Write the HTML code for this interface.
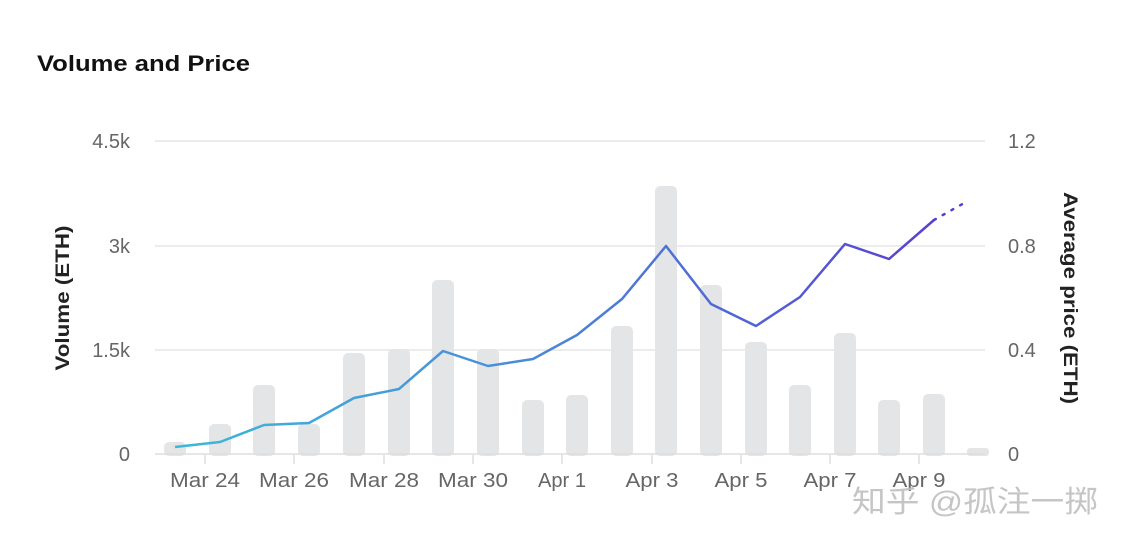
<!DOCTYPE html>
<html><head><meta charset="utf-8"><style>
html,body{margin:0;padding:0;background:#fff;}
body{width:1126px;height:546px;overflow:hidden;font-family:"Liberation Sans","Noto Sans CJK SC",sans-serif;}
</style></head><body>
<svg width="1126" height="546" xmlns="http://www.w3.org/2000/svg" font-family="Liberation Sans, Noto Sans CJK SC, sans-serif">
<defs><linearGradient id="g" x1="175" y1="0" x2="965" y2="0" gradientUnits="userSpaceOnUse">
<stop offset="0" stop-color="#3cb8d8"/><stop offset="0.45" stop-color="#4a8ad8"/><stop offset="1" stop-color="#5a3bcf"/></linearGradient></defs>
<text x="37" y="71" font-size="22" font-weight="bold" fill="#111" textLength="213" lengthAdjust="spacingAndGlyphs">Volume and Price</text>
<g stroke="#e6e6e6" stroke-width="1.5">
<line x1="155" y1="141" x2="985" y2="141"/><line x1="155" y1="246" x2="985" y2="246"/><line x1="155" y1="350" x2="985" y2="350"/>
</g>
<g fill="#666" font-size="20" text-anchor="end">
<text x="130" y="148">4.5k</text><text x="130" y="253">3k</text><text x="130" y="357">1.5k</text><text x="130" y="461">0</text></g>
<g fill="#666" font-size="20">
<text x="1008" y="148">1.2</text><text x="1008" y="253">0.8</text><text x="1008" y="357">0.4</text><text x="1008" y="461">0</text></g>
<text transform="translate(69,298) rotate(-90)" font-size="19" font-weight="bold" fill="#222" text-anchor="middle" textLength="145" lengthAdjust="spacingAndGlyphs">Volume (ETH)</text>
<text transform="translate(1064,298) rotate(90)" font-size="19" font-weight="bold" fill="#222" text-anchor="middle" textLength="212" lengthAdjust="spacingAndGlyphs">Average price (ETH)</text>
<g fill="#e4e5e7">
<rect x="164" y="442" width="22" height="14" rx="5"/>
<rect x="209" y="424" width="22" height="32" rx="5"/>
<rect x="253" y="385" width="22" height="71" rx="5"/>
<rect x="298" y="424" width="22" height="32" rx="5"/>
<rect x="343" y="353" width="22" height="103" rx="5"/>
<rect x="388" y="349" width="22" height="107" rx="5"/>
<rect x="432" y="280" width="22" height="176" rx="5"/>
<rect x="477" y="349" width="22" height="107" rx="5"/>
<rect x="522" y="400" width="22" height="56" rx="5"/>
<rect x="566" y="395" width="22" height="61" rx="5"/>
<rect x="611" y="326" width="22" height="130" rx="5"/>
<rect x="655" y="186" width="22" height="270" rx="5"/>
<rect x="700" y="285" width="22" height="171" rx="5"/>
<rect x="745" y="342" width="22" height="114" rx="5"/>
<rect x="789" y="385" width="22" height="71" rx="5"/>
<rect x="834" y="333" width="22" height="123" rx="5"/>
<rect x="878" y="400" width="22" height="56" rx="5"/>
<rect x="923" y="394" width="22" height="62" rx="5"/>
<rect x="967" y="448" width="22" height="8" rx="3"/>
</g>
<line x1="155" y1="454" x2="985" y2="454" stroke="#ddd" stroke-width="1.5"/>
<g stroke="#ccc" stroke-width="1">
<line x1="205" y1="455" x2="205" y2="464"/><line x1="294" y1="455" x2="294" y2="464"/><line x1="384" y1="455" x2="384" y2="464"/><line x1="473" y1="455" x2="473" y2="464"/><line x1="562" y1="455" x2="562" y2="464"/><line x1="652" y1="455" x2="652" y2="464"/><line x1="741" y1="455" x2="741" y2="464"/><line x1="830" y1="455" x2="830" y2="464"/><line x1="919" y1="455" x2="919" y2="464"/>
</g>
<g fill="#666" font-size="20" text-anchor="middle">
<text x="205" y="487" textLength="70" lengthAdjust="spacingAndGlyphs">Mar 24</text><text x="294" y="487" textLength="70" lengthAdjust="spacingAndGlyphs">Mar 26</text><text x="384" y="487" textLength="70" lengthAdjust="spacingAndGlyphs">Mar 28</text><text x="473" y="487" textLength="70" lengthAdjust="spacingAndGlyphs">Mar 30</text><text x="562" y="487" textLength="48" lengthAdjust="spacingAndGlyphs">Apr 1</text><text x="652" y="487" textLength="53" lengthAdjust="spacingAndGlyphs">Apr 3</text><text x="741" y="487" textLength="53" lengthAdjust="spacingAndGlyphs">Apr 5</text><text x="830" y="487" textLength="53" lengthAdjust="spacingAndGlyphs">Apr 7</text><text x="919" y="487" textLength="53" lengthAdjust="spacingAndGlyphs">Apr 9</text></g>
<polyline fill="none" stroke="url(#g)" stroke-width="2.5" stroke-linejoin="round" points="175,447 220,442 264,425 309,423 354,398 399,389 443,351 488,366 533,359 577,335 622,299 666,246 711,304 756,326 800,297 845,244 889,259 934,220"/>
<line x1="934" y1="220" x2="966" y2="202" stroke="#5a3bcf" stroke-width="2.5" stroke-dasharray="2,8" stroke-linecap="round"/>
<text x="852" y="512" font-size="30" fill="#bbb" fill-opacity="0.85" textLength="246" lengthAdjust="spacingAndGlyphs">知乎 @孤注一掷</text>
</svg>
</body></html>
